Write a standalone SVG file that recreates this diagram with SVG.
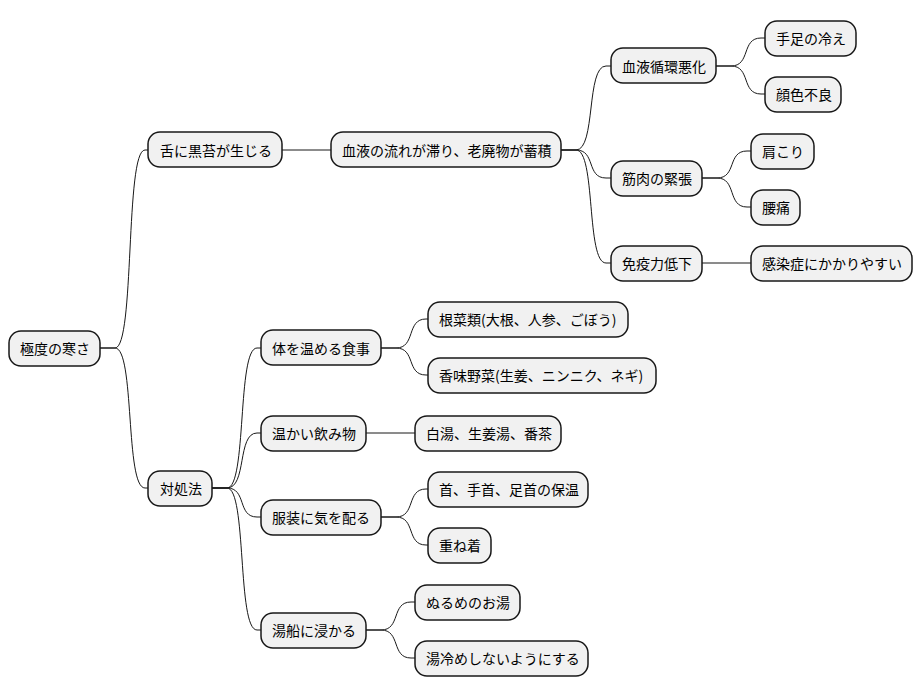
<svg xmlns="http://www.w3.org/2000/svg" width="922" height="696" viewBox="0 0 922 696">
<style>
.n rect{fill:#F1F1F1;stroke:#181818;stroke-width:1.5}
.n text{font-family:"Noto Sans CJK JP","Noto Sans",sans-serif;font-size:14px;fill:#000;dominant-baseline:central}
#c path{fill:none;stroke:#181818;stroke-width:1}
</style>
<rect width="922" height="696" fill="#fff"/>
<g id="c">
<path d="M100,348 L115,348 C135,348 125,150 145,150 L148,150"/>
<path d="M100,348 L115,348 C135,348 125,488 145,488 L148,488"/>
<path d="M282,150 L331,150"/>
<path d="M561,150 L576,150 C596,150 586,66 606,66 L611,66"/>
<path d="M561,150 L576,150 C596,150 586,178 606,178 L611,178"/>
<path d="M561,150 L576,150 C596,150 586,263 606,263 L611,263"/>
<path d="M716,66 L731,66 C751,66 741,38 761,38 L765,38"/>
<path d="M716,66 L731,66 C751,66 741,94 761,94 L765,94"/>
<path d="M702,178 L717,178 C737,178 727,151 747,151 L751,151"/>
<path d="M702,178 L717,178 C737,178 727,207 747,207 L751,207"/>
<path d="M702,263 L751,263"/>
<path d="M212,488 L227,488 C247,488 237,348 257,348 L261,348"/>
<path d="M212,488 L227,488 C247,488 237,433 257,433 L261,433"/>
<path d="M212,488 L227,488 C247,488 237,517 257,517 L261,517"/>
<path d="M212,488 L227,488 C247,488 237,630 257,630 L261,630"/>
<path d="M381,348 L396,348 C416,348 406,319 426,319 L428,319"/>
<path d="M381,348 L396,348 C416,348 406,375 426,375 L428,375"/>
<path d="M366,433 L415,433"/>
<path d="M381,517 L396,517 C416,517 406,489 426,489 L428,489"/>
<path d="M381,517 L396,517 C416,517 406,545 426,545 L428,545"/>
<path d="M366,630 L381,630 C401,630 391,602 411,602 L415,602"/>
<path d="M366,630 L381,630 C401,630 391,658 411,658 L415,658"/>
</g>
<g id="n1" class="n"><rect x="9" y="331" width="91" height="35" rx="12"/><text x="20" y="348">極度の寒さ</text></g>
<g id="n2" class="n"><rect x="148" y="132" width="134" height="35" rx="12"/><text x="160" y="150">舌に黒苔が生じる</text></g>
<g id="n3" class="n"><rect x="331" y="132" width="230" height="35" rx="12"/><text x="342" y="150">血液の流れが滞り、老廃物が蓄積</text></g>
<g id="n4" class="n"><rect x="611" y="48" width="105" height="35" rx="12"/><text x="622" y="66">血液循環悪化</text></g>
<g id="n5" class="n"><rect x="765" y="21" width="91" height="35" rx="12"/><text x="776" y="38">手足の冷え</text></g>
<g id="n6" class="n"><rect x="765" y="77" width="76" height="35" rx="12"/><text x="776" y="94">顔色不良</text></g>
<g id="n7" class="n"><rect x="611" y="161" width="91" height="35" rx="12"/><text x="622" y="178">筋肉の緊張</text></g>
<g id="n8" class="n"><rect x="751" y="134" width="63" height="35" rx="12"/><text x="762" y="151">肩こり</text></g>
<g id="n9" class="n"><rect x="751" y="190" width="49" height="35" rx="12"/><text x="762" y="207">腰痛</text></g>
<g id="n10" class="n"><rect x="611" y="246" width="91" height="35" rx="12"/><text x="622" y="263">免疫力低下</text></g>
<g id="n11" class="n"><rect x="751" y="246" width="161" height="35" rx="12"/><text x="762" y="263">感染症にかかりやすい</text></g>
<g id="n12" class="n"><rect x="148" y="471" width="64" height="35" rx="12"/><text x="160" y="488">対処法</text></g>
<g id="n13" class="n"><rect x="261" y="330" width="120" height="35" rx="12"/><text x="272" y="348">体を温める食事</text></g>
<g id="n14" class="n"><rect x="428" y="302" width="200" height="35" rx="12"/><text x="439" y="319">根菜類(大根、人参、ごぼう)</text></g>
<g id="n15" class="n"><rect x="428" y="358" width="228" height="35" rx="12"/><text x="439" y="375">香味野菜(生姜、ニンニク、ネギ)</text></g>
<g id="n16" class="n"><rect x="261" y="416" width="105" height="35" rx="12"/><text x="272" y="433">温かい飲み物</text></g>
<g id="n17" class="n"><rect x="415" y="416" width="146" height="35" rx="12"/><text x="426" y="433">白湯、生姜湯、番茶</text></g>
<g id="n18" class="n"><rect x="261" y="500" width="120" height="35" rx="12"/><text x="272" y="517">服装に気を配る</text></g>
<g id="n19" class="n"><rect x="428" y="472" width="160" height="35" rx="12"/><text x="439" y="489">首、手首、足首の保温</text></g>
<g id="n20" class="n"><rect x="428" y="528" width="63" height="35" rx="12"/><text x="439" y="545">重ね着</text></g>
<g id="n21" class="n"><rect x="261" y="613" width="105" height="35" rx="12"/><text x="272" y="630">湯船に浸かる</text></g>
<g id="n22" class="n"><rect x="415" y="585" width="105" height="35" rx="12"/><text x="426" y="602">ぬるめのお湯</text></g>
<g id="n23" class="n"><rect x="415" y="641" width="173" height="35" rx="12"/><text x="426" y="658">湯冷めしないようにする</text></g>
</svg>
